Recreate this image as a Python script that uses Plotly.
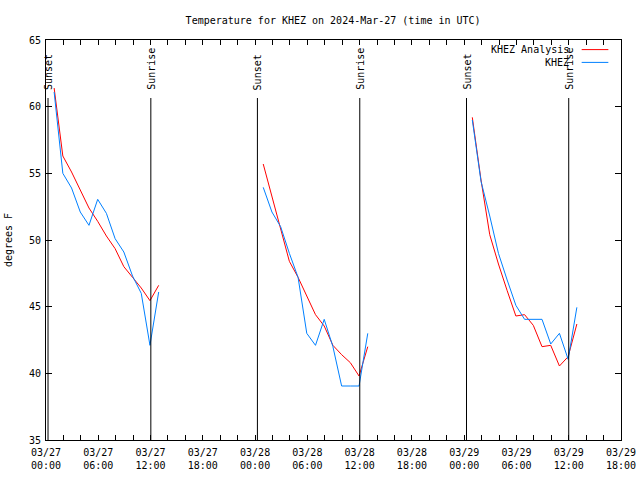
import pandas as pd
import plotly.graph_objects as go

# ---- data -------------------------------------------------------------
segment_starts = ["2024-03-27 00:56", "2024-03-28 00:56", "2024-03-29 00:56"]
points_per_segment = 13

analysis_seg1 = [61.4, 56.3, 55.1, 53.8, 52.4, 51.4, 50.3, 49.35, 48.0, 47.2, 46.4, 45.45, 46.6]
analysis_seg2 = [55.7, 53.3, 50.8, 48.4, 47.2, 45.75, 44.4, 43.55, 42.1, 41.4, 40.8, 39.8, 42.0]
analysis_seg3 = [59.2, 54.5, 50.4, 48.2, 46.2, 44.3, 44.4, 43.6, 42.0, 42.1, 40.55, 41.25, 43.7]

obs_seg1 = [61.1, 55.0, 53.9, 52.1, 51.1, 53.05, 52.0, 50.1, 49.1, 47.3, 46.0, 42.1, 46.1]
obs_seg2 = [53.95, 52.1, 51.0, 49.0, 47.2, 43.0, 42.1, 44.05, 42.0, 39.05, 39.05, 39.05, 43.0]
obs_seg3 = [59.0, 54.4, 51.8, 49.0, 47.0, 45.1, 44.05, 44.05, 44.05, 42.2, 43.0, 41.05, 44.95]

sun_times = ["2024-03-27 00:14", "2024-03-27 12:02", "2024-03-28 00:16",
             "2024-03-28 12:01", "2024-03-29 00:16", "2024-03-29 12:00"]
sun_labels = ["Sunset", "Sunrise", "Sunset", "Sunrise", "Sunset", "Sunrise"]

series_names = ["KHEZ Analysis", "KHEZ"]
series_colors = ["#ff0000", "#0080ff"]

x_range = ["2024-03-27 00:00", "2024-03-29 18:00"]
y_range = [35, 65]

# ---- build ------------------------------------------------------------
def build(segs):
    xs, ys = [], []
    for start, vals in zip(segment_starts, segs):
        t = pd.date_range(start, periods=points_per_segment, freq="h")
        xs += [d.strftime("%Y-%m-%d %H:%M") for d in t] + [None]
        ys += list(vals) + [None]
    return xs, ys

xa, ya = build([analysis_seg1, analysis_seg2, analysis_seg3])
xo, yo = build([obs_seg1, obs_seg2, obs_seg3])

FONT = "DejaVu Sans Mono"
fig = go.Figure()
fig.add_trace(go.Scatter(x=xa, y=ya, mode="lines", name=series_names[0],
                         line=dict(color=series_colors[0], width=1),
                         connectgaps=False, showlegend=False))
fig.add_trace(go.Scatter(x=xo, y=yo, mode="lines", name=series_names[1],
                         line=dict(color=series_colors[1], width=1),
                         connectgaps=False, showlegend=False))

shapes = []
annotations = []
for t, lab in zip(sun_times, sun_labels):
    shapes.append(dict(type="line", xref="x", yref="paper", x0=t, x1=t,
                       y0=0, y1=0.855, line=dict(color="black", width=1)))
    annotations.append(dict(x=t, xref="x", y=0.87, yref="paper", text=lab,
                            textangle=-90, showarrow=False, xanchor="center",
                            yanchor="bottom", font=dict(family=FONT, size=10, color="black")))

# manual gnuplot-style legend (text right, sample line left)
leg_y = [0.976, 0.944]
for name, col, yy in zip(series_names, series_colors, leg_y):
    annotations.append(dict(x=0.913, y=yy, xref="paper", yref="paper", text=name,
                            showarrow=False, xanchor="right", yanchor="middle",
                            font=dict(family=FONT, size=10, color="black")))
    shapes.append(dict(type="line", xref="paper", yref="paper", x0=0.9316, x1=0.978,
                       y0=yy, y1=yy, line=dict(color=col, width=1)))

fig.update_layout(
    width=640, height=480, autosize=False,
    margin=dict(l=46, r=19, t=40, b=40, pad=0),
    paper_bgcolor="white", plot_bgcolor="white",
    font=dict(family=FONT, size=10, color="black"),
    title=dict(text="Temperature for KHEZ on 2024-Mar-27 (time in UTC)",
               x=0.5205, xanchor="center", y=1 - 20 / 480, yanchor="middle",
               font=dict(family=FONT, size=10, color="black")),
    shapes=shapes, annotations=annotations,
    xaxis=dict(type="date", range=x_range, tick0="2024-03-27 00:00",
               dtick=6 * 3600 * 1000, tickformat="%m/%d<br>%H:%M",
               ticks="inside", ticklen=5, tickcolor="black", tickwidth=1,
               ticklabelstandoff=3, automargin=False,
               showline=True, linecolor="black", linewidth=1, mirror="ticks",
               showgrid=False, zeroline=False,
               minor=dict(dtick=2 * 3600 * 1000, ticks="inside", ticklen=5,
                          tickcolor="black", showgrid=False)),
    yaxis=dict(range=y_range, dtick=5, ticks="inside", ticklen=6, tickcolor="black",
               showline=True, linecolor="black", linewidth=1, mirror="ticks",
               showgrid=False, zeroline=False, automargin=False,
               ticklabelstandoff=2,
               title=dict(text="degrees F", standoff=14,
                          font=dict(family=FONT, size=10, color="black"))),
)

fig.write_html("out.html")
